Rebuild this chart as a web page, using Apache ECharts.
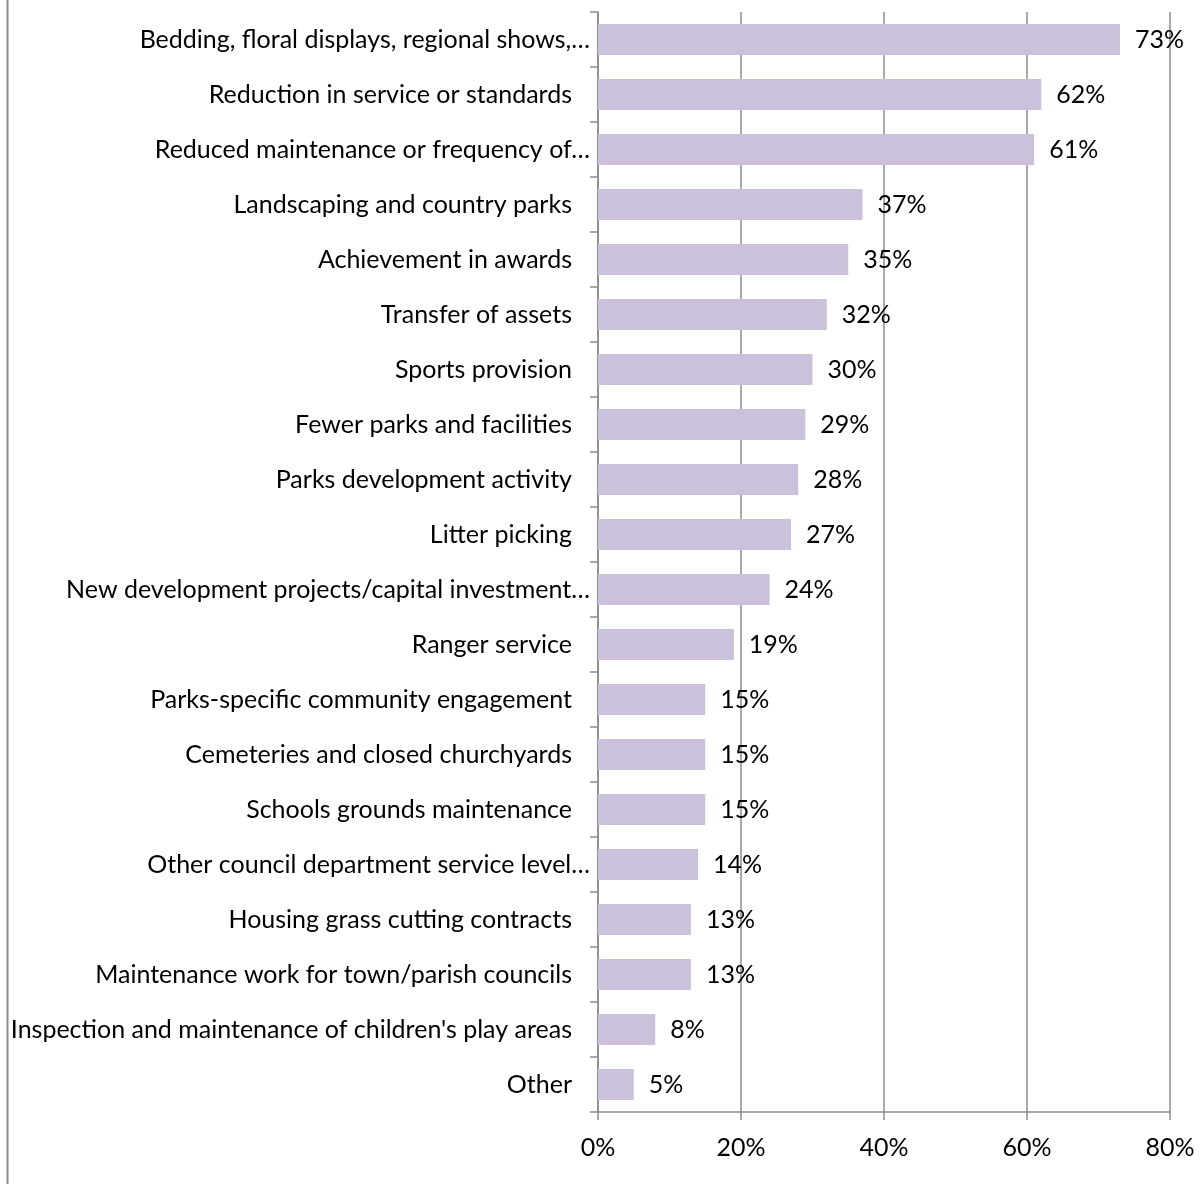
<!DOCTYPE html>
<html>
<head>
<meta charset="utf-8">
<script src="https://cdn.jsdelivr.net/npm/echarts@6/dist/echarts.min.js"></script>
<style>
  html, body { margin: 0; padding: 0; background: #fff; }
  #chart { width: 1203px; height: 1184px; }
</style>
</head>
<body>
<div id="chart"></div>
<script>
// Service areas affected, share of respondents (%)
const categories = [
  "Bedding, floral displays, regional shows,…",
  "Reduction in service or standards",
  "Reduced maintenance or frequency of…",
  "Landscaping and country parks",
  "Achievement in awards",
  "Transfer of assets",
  "Sports provision",
  "Fewer parks and facilities",
  "Parks development activity",
  "Litter picking",
  "New development projects/capital investment…",
  "Ranger service",
  "Parks-specific community engagement",
  "Cemeteries and closed churchyards",
  "Schools grounds maintenance",
  "Other council department service level…",
  "Housing grass cutting contracts",
  "Maintenance work for town/parish councils",
  "Inspection and maintenance of children's play areas",
  "Other"
];
const values = [73, 62, 61, 37, 35, 32, 30, 29, 28, 27, 24, 19, 15, 15, 15, 14, 13, 13, 8, 5];
const xTicks = [0, 20, 40, 60, 80];

const FONT = "Lato";
const FS = 25;
const AXIS_GREY = "#8c8c8c";

const chart = echarts.init(document.getElementById("chart"), null, { renderer: "canvas" });

chart.setOption({
  animation: false,
  backgroundColor: "#ffffff",
  textStyle: { fontFamily: FONT },
  grid: { left: 598, right: 33, top: 12, bottom: 72, containLabel: false },
  xAxis: {
    type: "value",
    min: xTicks[0],
    max: xTicks[xTicks.length - 1],
    interval: 20,
    axisLine: { show: true, lineStyle: { color: AXIS_GREY, width: 1.5 } },
    axisTick: { show: true, length: 8, lineStyle: { color: AXIS_GREY, width: 1.5 } },
    splitLine: { show: true, lineStyle: { color: AXIS_GREY, width: 1.5 } },
    axisLabel: {
      formatter: "{value}%",
      margin: 23,
      fontFamily: FONT,
      fontSize: FS,
      color: "#000"
    }
  },
  yAxis: {
    type: "category",
    data: categories,
    inverse: true,
    axisLine: { show: true, lineStyle: { color: AXIS_GREY, width: 1.5 } },
    axisTick: { show: true, length: 8, lineStyle: { color: AXIS_GREY, width: 1.5 } },
    splitLine: { show: false },
    axisLabel: {
      margin: 8,
      fontFamily: FONT,
      fontSize: FS,
      color: "#000",
      formatter: function (v) {
        return v.endsWith("…") ? "{cut|" + v + "}" : "{full|" + v + "}";
      },
      rich: {
        full: { fontFamily: FONT, fontSize: FS, color: "#000", padding: [0, 18, 0, 0] },
        cut: { fontFamily: FONT, fontSize: FS, color: "#000", padding: [0, 0, 0, 0] }
      }
    }
  },
  series: [{
    type: "bar",
    data: values,
    barWidth: 31,
    itemStyle: { color: "#ccc1da" },
    label: {
      show: true,
      position: "right",
      distance: 15,
      formatter: "{c}%",
      fontFamily: FONT,
      fontSize: FS,
      color: "#000"
    }
  }],
  graphic: [{
    type: "line",
    shape: { x1: 7.5, y1: 0, x2: 7.5, y2: 1184 },
    style: { stroke: AXIS_GREY, lineWidth: 2 }
  }]
});
</script>
</body>
</html>
